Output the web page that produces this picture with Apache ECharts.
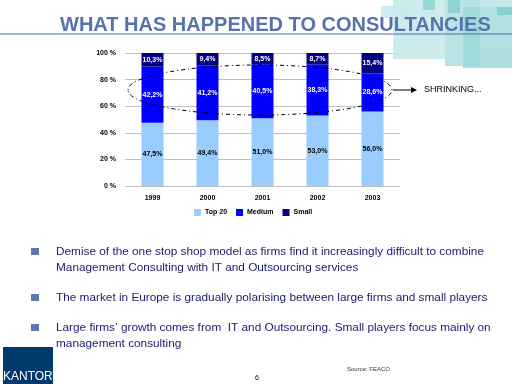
<!DOCTYPE html>
<html>
<head>
<meta charset="utf-8">
<script src="https://cdn.jsdelivr.net/npm/echarts@6/dist/echarts.min.js"></script>
<style>
html,body{margin:0;padding:0;background:#fff;}
#c{width:512px;height:384px;}
</style>
</head>
<body>
<div id="c"></div>
<script>
var years = ['1999', '2000', '2001', '2002', '2003'];
var top20 = [47.5, 49.4, 51.0, 53.0, 56.0];
var medium = [42.2, 41.2, 40.5, 38.3, 28.6];
var small = [10.3, 9.4, 8.5, 8.7, 15.4];
var yTicks = [0, 20, 40, 60, 80, 100];
var seriesNames = ['Top 20', 'Medium', 'Small'];
var title = 'WHAT HAS HAPPENED TO CONSULTANCIES';
var bullets = [
  ['Demise of the one stop shop model as firms find it increasingly difficult to combine',
   'Management Consulting with IT and Outsourcing services'],
  ['The market in Europe is gradually polarising between large firms and small players'],
  ['Large firms\u2019 growth comes from  IT and Outsourcing. Small players focus mainly on',
   'management consulting']
];

var chart = echarts.init(document.getElementById('c'), null, {renderer: 'canvas'});

function pct(p) { return p.value.toFixed(1).replace('.', ',') + '%'; }
var lblFont = {fontFamily: 'Liberation Sans', fontSize: 7, fontWeight: 'bold'};

var graphics = [];
// decorative teal squares
var sq = [
  [393, 0, 52, 59, '#c6e8e8', 0.85],
  [381, 6, 32, 12, '#c8eaea', 0.85],
  [423, 0, 12, 10, '#8fd3d3', 0.85],
  [445, 0, 35, 66, '#addfdf', 0.85],
  [448, 0, 12, 13, '#86cfcf', 0.85],
  [463, 7, 49, 61, '#9ad7d7', 0.8],
  [480, 0, 32, 50, '#b0e0e0', 0.75],
  [497, 7, 15, 8, '#82cccc', 0.85]
];
sq.forEach(function (s) {
  graphics.push({type: 'rect', shape: {x: s[0], y: s[1], width: s[2], height: s[3]},
    style: {fill: s[4], opacity: s[5]}, z: 1, silent: true});
});
graphics.push({type: 'text', x: 60, y: 15, style: {text: title, fill: '#5673ab',
  font: 'bold 20px "Liberation Sans", Arial', textVerticalAlign: 'top'}, z: 5});
graphics.push({type: 'line', shape: {x1: 0, y1: 34, x2: 512, y2: 34},
  style: {stroke: '#4d6cab', lineWidth: 1}, z: 5});

// dashed ellipse
graphics.push({type: 'ellipse', shape: {cx: 260, cy: 90, rx: 132, ry: 25},
  style: {fill: null, stroke: '#000', lineWidth: 1, lineDash: [1, 3, 4, 3]}, z: 50});
graphics.push({type: 'line', shape: {x1: 393, y1: 90, x2: 412, y2: 90},
  style: {stroke: '#000', lineWidth: 1}, z: 50});
graphics.push({type: 'polygon', shape: {points: [[411, 87], [417, 90], [411, 93]]},
  style: {fill: '#000'}, z: 50});
graphics.push({type: 'text', x: 424, y: 90, style: {text: 'SHRINKING...', fill: '#000',
  font: '9px "Liberation Sans", Arial', textVerticalAlign: 'middle'}, z: 50});

// bullets
var bulletY = [252, 298, 328];
bullets.forEach(function (b, i) {
  graphics.push({type: 'rect', shape: {x: 31, y: bulletY[i] - 4, width: 8, height: 7},
    style: {fill: '#5b78b0'}, z: 5});
  b.forEach(function (line, j) {
    graphics.push({type: 'text', x: 56, y: bulletY[i] + j * 16, style: {text: line,
      fill: '#1a1a70', font: '11.8px "Liberation Sans", Arial', textVerticalAlign: 'middle'}, z: 5});
  });
});

// logo
graphics.push({type: 'rect', shape: {x: 3, y: 347, width: 50, height: 37},
  style: {fill: '#003a6c'}, z: 5});
graphics.push({type: 'text', x: 3, y: 377, style: {text: 'KANTOR', fill: '#fff',
  font: '12px "Liberation Sans", Arial', textVerticalAlign: 'middle'}, z: 6});
graphics.push({type: 'text', x: 255, y: 378, style: {text: '6', fill: '#000',
  font: '7px "Liberation Sans", Arial', textVerticalAlign: 'middle'}, z: 6});
graphics.push({type: 'text', x: 347, y: 369, style: {text: 'Source: FEACO', fill: '#333',
  font: '6px "Liberation Sans", Arial', textVerticalAlign: 'middle'}, z: 6});

var option = {
  animation: false,
  backgroundColor: '#fff',
  grid: {left: 125, right: 112, top: 53, bottom: 198, containLabel: false},
  legend: {
    left: 189, top: 204, itemWidth: 7, itemHeight: 7, itemGap: 9,
    icon: 'rect', data: seriesNames,
    textStyle: {fontFamily: 'Liberation Sans', fontSize: 7, fontWeight: 'bold', color: '#000', padding: [0, 0, 0, -1]}
  },
  xAxis: {
    type: 'category', data: years,
    axisLine: {show: false}, axisTick: {show: false},
    axisLabel: {margin: 9, color: '#000', fontFamily: 'Liberation Sans', fontSize: 7, fontWeight: 'bold'}
  },
  yAxis: {
    type: 'value', min: yTicks[0], max: yTicks[yTicks.length - 1], interval: 20,
    axisLine: {show: false}, axisTick: {show: false},
    splitLine: {lineStyle: {color: '#c0c0c0', width: 1}},
    axisLabel: {margin: 9, color: '#000', fontFamily: 'Liberation Sans', fontSize: 7, fontWeight: 'bold',
      formatter: function (v) { return v + ' %'; }}
  },
  series: [
    {name: seriesNames[0], type: 'bar', stack: 's', data: top20, barWidth: 22,
      itemStyle: {color: '#99ccff'},
      label: Object.assign({show: true, position: 'inside', color: '#000', formatter: pct}, lblFont)},
    {name: seriesNames[1], type: 'bar', stack: 's', data: medium, barWidth: 22,
      itemStyle: {color: '#0000ff'},
      label: Object.assign({show: true, position: 'inside', color: '#fff', formatter: pct}, lblFont)},
    {name: seriesNames[2], type: 'bar', stack: 's', data: small, barWidth: 22,
      itemStyle: {color: '#000080'},
      label: Object.assign({show: true, position: 'inside', color: '#fff', formatter: pct}, lblFont)}
  ],
  graphic: {elements: graphics}
};
chart.setOption(option);
</script>
</body>
</html>
